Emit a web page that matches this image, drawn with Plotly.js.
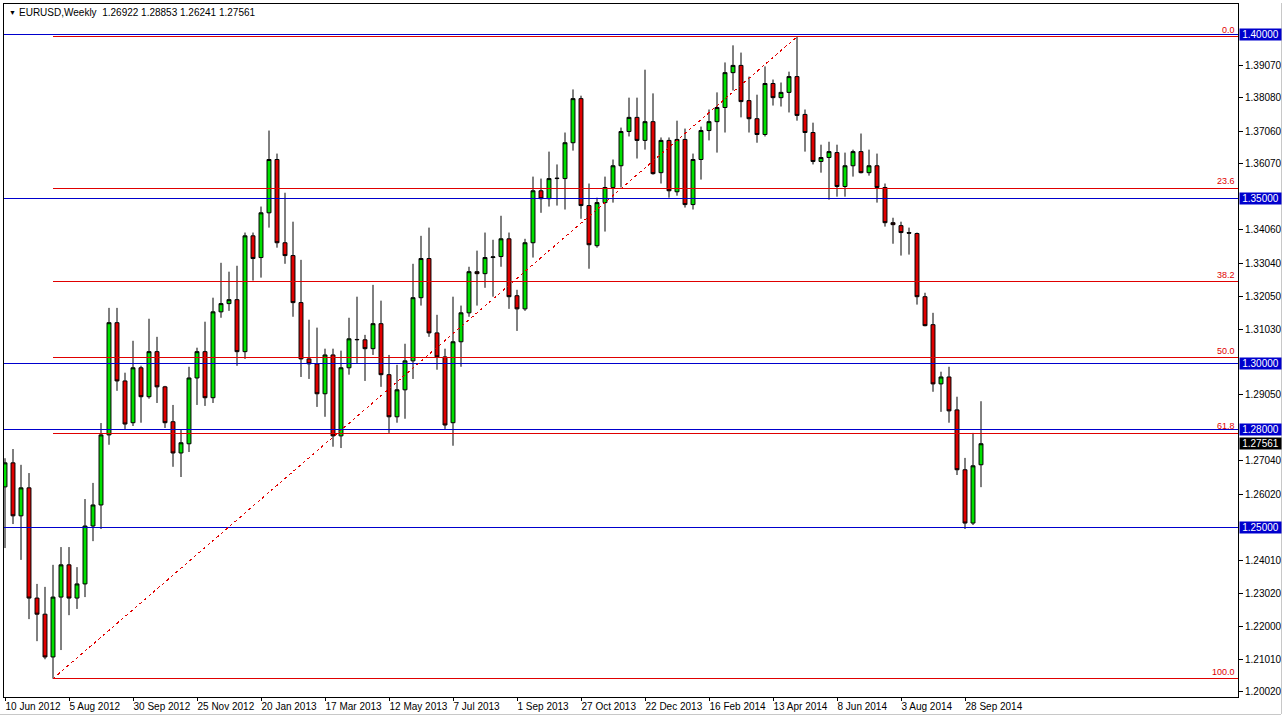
<!DOCTYPE html>
<html>
<head>
<meta charset="utf-8">
<script src="https://cdn.plot.ly/plotly-3.0.1.min.js"></script>
<style>
html,body{margin:0;padding:0;background:#fff;}
#chart{width:1283px;height:716px;}
.shapelayer path{shape-rendering:crispEdges;}
</style>
</head>
<body>
<div id="chart"></div>
<script>
// ---- data (EURUSD weekly, one candle per week starting 10 Jun 2012) ----
const symbolTitle = "EURUSD,Weekly";
const weekLabels = ["10 Jun 2012","5 Aug 2012","30 Sep 2012","25 Nov 2012","20 Jan 2013","17 Mar 2013",
  "12 May 2013","7 Jul 2013","1 Sep 2013","27 Oct 2013","22 Dec 2013","16 Feb 2014","13 Apr 2014",
  "8 Jun 2014","3 Aug 2014","28 Sep 2014"];
const weeksPerLabel = 8;

const open = [1.2625,1.2698,1.2537,1.2622,1.2287,1.2238,1.2108,1.2290,1.2388,1.2287,
  1.2330,1.2506,1.2570,1.2783,1.3124,1.2947,1.2820,1.2987,1.2899,1.3036,
  1.2929,1.2823,1.2728,1.2756,1.2956,1.3036,1.2896,1.3157,1.3182,1.3194,
  1.3036,1.3388,1.3322,1.3458,1.3620,1.3367,1.3328,1.3185,1.3014,1.2999,
  1.2908,1.3026,1.2780,1.2987,1.3072,1.3072,1.3045,1.3121,1.2966,1.2838,
  1.2920,1.3008,1.3200,1.3319,1.3093,1.3020,1.2820,1.3066,1.3154,1.3279,
  1.3273,1.3322,1.3325,1.3379,1.3206,1.3166,1.3367,1.3525,1.3501,1.3562,
  1.3562,1.3671,1.3805,1.3480,1.3358,1.3489,1.3535,1.3601,1.3705,1.3748,
  1.3678,1.3735,1.3580,1.3678,1.3522,1.3681,1.3483,1.3620,1.3708,1.3735,
  1.3778,1.3884,1.3906,1.3799,1.3744,1.3696,1.3851,1.3808,1.3824,1.3872,
  1.3757,1.3702,1.3614,1.3626,1.3641,1.3538,1.3601,1.3644,1.3580,1.3601,
  1.3535,1.3428,1.3419,1.3398,1.3395,1.3203,1.3118,1.2938,1.2959,1.2859,
  1.2677,1.2515,1.26922];
const high = [1.2712,1.2740,1.2692,1.2667,1.2330,1.2321,1.2388,1.2442,1.2442,1.2381,
  1.2588,1.2637,1.2819,1.3169,1.3169,1.2972,1.3069,1.2993,1.3136,1.3081,
  1.2932,1.2874,1.2798,1.2990,1.3048,1.3127,1.3200,1.3306,1.3279,1.3297,
  1.3398,1.3398,1.3477,1.3708,1.3638,1.3519,1.3431,1.3315,1.3133,1.3109,
  1.3045,1.3045,1.3039,1.3139,1.3203,1.3087,1.3239,1.3191,1.3026,1.2996,
  1.3060,1.3303,1.3388,1.3413,1.3148,1.3045,1.3203,1.3176,1.3294,1.3343,
  1.3398,1.3376,1.3449,1.3398,1.3224,1.3379,1.3568,1.3562,1.3644,1.3605,
  1.3702,1.3833,1.3814,1.3547,1.3504,1.3568,1.3620,1.3717,1.3808,1.3808,
  1.3893,1.3821,1.3687,1.3687,1.3738,1.3714,1.3638,1.3720,1.3772,1.3824,
  1.3915,1.3967,1.3945,1.3872,1.3817,1.3903,1.3863,1.3854,1.3887,1.3993,
  1.3772,1.3732,1.3665,1.3674,1.3665,1.3641,1.3650,1.3699,1.3650,1.3638,
  1.3547,1.3443,1.3431,1.3413,1.3398,1.3215,1.3154,1.2975,1.2990,1.2899,
  1.2713,1.2789,1.28853];
const low = [1.2439,1.2512,1.2403,1.2223,1.2156,1.2101,1.2042,1.2129,1.2235,1.2254,
  1.2290,1.2460,1.2497,1.2753,1.2917,1.2801,1.2810,1.2820,1.2893,1.2880,
  1.2804,1.2686,1.2655,1.2731,1.2874,1.2871,1.2880,1.3139,1.3160,1.2993,
  1.3014,1.3252,1.3261,1.3413,1.3352,1.3303,1.3142,1.2959,1.2953,1.2868,
  1.2838,1.2747,1.2743,1.2966,1.2999,1.2947,1.3026,1.2929,1.2789,1.2820,
  1.2832,1.2953,1.3176,1.3081,1.2981,1.2801,1.2750,1.2990,1.3142,1.3176,
  1.3230,1.3203,1.3294,1.3166,1.3099,1.3160,1.3322,1.3458,1.3477,1.3480,
  1.3468,1.3647,1.3440,1.3288,1.3352,1.3401,1.3489,1.3535,1.3690,1.3623,
  1.3650,1.3574,1.3547,1.3504,1.3510,1.3474,1.3468,1.3559,1.3678,1.3641,
  1.3702,1.3830,1.3748,1.3702,1.3671,1.3690,1.3784,1.3781,1.3763,1.3738,
  1.3644,1.3605,1.3580,1.3498,1.3507,1.3507,1.3568,1.3578,1.3571,1.3489,
  1.3416,1.3364,1.3328,1.3331,1.3179,1.3113,1.2914,1.2853,1.2820,1.2661,
  1.2497,1.2509,1.26241];
const close = [1.2698,1.2537,1.2622,1.2287,1.2238,1.2108,1.2290,1.2388,1.2287,1.2330,
  1.2506,1.2570,1.2783,1.3124,1.2947,1.2816,1.2987,1.2899,1.3036,1.2929,
  1.2820,1.2728,1.2759,1.2956,1.3036,1.2896,1.3157,1.3182,1.3194,1.3036,
  1.3388,1.3319,1.3458,1.3620,1.3367,1.3328,1.3185,1.3014,1.2999,1.2908,
  1.3026,1.2780,1.2987,1.3075,1.3073,1.3045,1.3121,1.2966,1.2838,1.2920,
  1.3008,1.3200,1.3319,1.3093,1.3020,1.2813,1.3066,1.3154,1.3279,1.3273,
  1.3322,1.3324,1.3379,1.3203,1.3166,1.3367,1.3525,1.3501,1.3562,1.3563,
  1.3671,1.3805,1.3480,1.3361,1.3489,1.3535,1.3601,1.3705,1.3748,1.3678,
  1.3735,1.3577,1.3678,1.3525,1.3681,1.3483,1.3620,1.3708,1.3735,1.3778,
  1.3884,1.3906,1.3796,1.3744,1.3696,1.3851,1.3808,1.3824,1.3872,1.3754,
  1.3702,1.3614,1.3626,1.3644,1.3538,1.3601,1.3644,1.3580,1.3601,1.3535,
  1.3428,1.3422,1.3398,1.3396,1.3203,1.3115,1.2938,1.2959,1.2856,1.2677,
  1.2515,1.2689,1.27561];

const priceTicks = [1.39070,1.38080,1.37060,1.36070,1.34060,1.33040,1.32050,1.31030,
  1.29050,1.27040,1.26020,1.24010,1.23020,1.22000,1.21010,1.20020];
const levelLines = [1.40000,1.35000,1.30000,1.28000,1.25000];
const fibRatios = [0.0,23.6,38.2,50.0,61.8,100.0];
const fibLowIndex = 6, fibHighIndex = 99;

// ---- build ----
const idx = open.map((_, i) => i);
const lastIdx = idx.length - 1;
const lastClose = close[lastIdx];
const fibLow = low[fibLowIndex], fibHigh = high[fibHighIndex];

const RED = '#e00000', BLUE = '#0000cd';
const FONT = 'Liberation Sans, Arial, sans-serif';
const W = 1283, H = 716, ML = 3, MR = 45, MT = 3, MB = 19;
const plotW = W - ML - MR, plotH = H - MT - MB;

const shapes = [];
levelLines.forEach(v => shapes.push({type:'line', xref:'paper', yref:'y', x0:0, x1:1, y0:v, y1:v,
  line:{color:BLUE, width:1}}));
fibRatios.forEach(r => {
  const v = fibHigh - r / 100 * (fibHigh - fibLow);
  shapes.push({type:'line', xref:'x', yref:'y', x0:fibLowIndex, x1:1000, y0:v, y1:v,
    line:{color:RED, width:1}});
});
shapes.push({type:'line', xref:'x', yref:'y', x0:fibLowIndex, y0:fibLow, x1:fibHighIndex, y1:fibHigh,
  line:{color:RED, width:1, dash:'3px,3px'}});
shapes.push({type:'rect', xref:'paper', yref:'paper', x0:0, x1:1, y0:0, y1:1,
  line:{color:'#000', width:1}, fillcolor:'rgba(0,0,0,0)'});
// light window frame (right / bottom) like the terminal window
shapes.push({type:'line', xref:'paper', yref:'paper', x0:(W - 2 - ML) / plotW, x1:(W - 2 - ML) / plotW,
  y0:-(H - 2 - MT - plotH) / plotH, y1:1, line:{color:'#c8c8c8', width:1}});
shapes.push({type:'line', xref:'paper', yref:'paper', x0:-ML / plotW, x1:(W - 2 - ML) / plotW,
  y0:-(H - 2 - MT - plotH) / plotH, y1:-(H - 2 - MT - plotH) / plotH, line:{color:'#c8c8c8', width:1}});

const annotations = [];
fibRatios.forEach(r => {
  const v = fibHigh - r / 100 * (fibHigh - fibLow);
  annotations.push({xref:'paper', yref:'y', x:1, y:v, xanchor:'right', yanchor:'bottom', xshift:-1, yshift:0,
    text:r.toFixed(1), showarrow:false, font:{size:9, color:RED, family:FONT}});
});
levelLines.forEach(v => annotations.push({xref:'paper', yref:'y', x:1, y:v, xanchor:'left', yanchor:'middle',
  xshift:1, text:v.toFixed(5), showarrow:false, bgcolor:BLUE, width:41, height:11, borderpad:0,
  font:{size:10, color:'#fff', family:FONT}}));
annotations.push({xref:'paper', yref:'y', x:1, y:lastClose, xanchor:'left', yanchor:'middle',
  xshift:1, text:lastClose.toFixed(5), showarrow:false, bgcolor:'#000', width:41, height:11, borderpad:0,
  font:{size:10, color:'#fff', family:FONT}});
annotations.push({xref:'paper', yref:'paper', x:0, y:1, xanchor:'left', yanchor:'top', xshift:4, yshift:-4,
  text:'▼', showarrow:false, font:{size:7, color:'#000'}});
annotations.push({xref:'paper', yref:'paper', x:0, y:1, xanchor:'left', yanchor:'top', xshift:14, yshift:-2,
  text:symbolTitle + '  ' + [open[lastIdx], high[lastIdx], low[lastIdx], close[lastIdx]].map(v => v.toFixed(5)).join(' '),
  showarrow:false, font:{size:10, color:'#000', family:FONT}});

const trace = {
  type:'candlestick', x:idx, open:open, high:high, low:low, close:close,
  increasing:{line:{color:'#000', width:1}, fillcolor:'#00e000'},
  decreasing:{line:{color:'#000', width:1}, fillcolor:'#e00000'},
  whiskerwidth:0, hoverinfo:'skip'
};

const layout = {
  width:W, height:H,
  margin:{l:ML, r:MR, t:MT, b:MB, pad:0},
  paper_bgcolor:'#fff', plot_bgcolor:'#fff', showlegend:false,
  font:{family:FONT, size:10, color:'#000'},
  xaxis:{range:[-0.25, 154.125], tickvals:weekLabels.map((_, i) => i * weeksPerLabel), ticktext:weekLabels,
    ticks:'outside', ticklen:3, tickcolor:'#000', tickangle:0, ticklabelposition:'outside right',
    showgrid:false, zeroline:false, showline:false, rangeslider:{visible:false}, fixedrange:true,
    automargin:false, tickfont:{size:10, color:'#000'}},
  yaxis:{side:'right', range:[1.19863, 1.40957], tickvals:priceTicks, ticktext:priceTicks.map(v => v.toFixed(5)),
    ticks:'outside', ticklen:4, tickcolor:'#000', showgrid:false, zeroline:false, showline:false, fixedrange:true,
    automargin:false, tickfont:{size:10, color:'#000'}},
  shapes:shapes, annotations:annotations
};

Plotly.newPlot('chart', [trace], layout, {displayModeBar:false, staticPlot:true});
</script>
</body>
</html>
